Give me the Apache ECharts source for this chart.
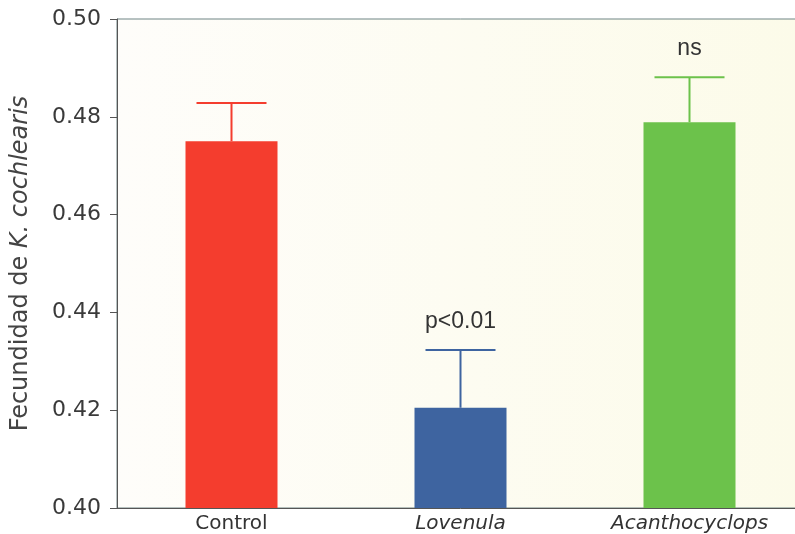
<!DOCTYPE html>
<html>
<head>
<meta charset="utf-8">
<script src="https://cdn.jsdelivr.net/npm/echarts@6/dist/echarts.min.js"></script>
<style>
  html, body { margin: 0; padding: 0; background: #fff; overflow: hidden; }
  #chart { width: 804px; height: 534px; }
</style>
</head>
<body>
<div id="chart"></div>
<script>
var categories = ['Control', 'Lovenula', 'Acanthocyclops']
var means = [0.475, 0.4205, 0.4789]
var errTops = [0.4828, 0.4323, 0.4881]
var colors = ['#f43d2e', '#3e64a0', '#6cc24b']
var notes = ['', 'p<0.01', 'ns']

var chart = echarts.init(document.getElementById('chart'))

var option = {
  backgroundColor: '#ffffff',
  grid: {
    left: 117,
    top: 19,
    right: 0,
    height: 489,
    show: true,
    borderWidth: 1,
    borderColor: '#6f8585',
    backgroundColor: {
      type: 'linear', x: 0, y: 0, x2: 1, y2: 0,
      colorStops: [
        { offset: 0, color: '#fefdfa' },
        { offset: 1, color: '#fcfbe9' }
      ]
    }
  },
  xAxis: {
    type: 'category',
    data: categories,
    axisLine: { lineStyle: { color: '#555', width: 1 } },
    axisTick: { show: false },
    axisLabel: {
      interval: 0,
      hideOverlap: false,
      margin: 6,
      fontFamily: 'DejaVu Sans',
      fontSize: 20,
      color: '#333',
      formatter: function (v) {
        return v === 'Control' ? v : '{i|' + v + '}'
      },
      rich: {
        i: { fontFamily: 'DejaVu Sans', fontStyle: 'italic', fontSize: 20, color: '#333' }
      }
    }
  },
  yAxis: {
    type: 'value',
    min: 0.40,
    max: 0.50,
    interval: 0.02,
    splitLine: { show: false },
    axisLine: { show: true, lineStyle: { color: '#555' } },
    axisTick: { show: true, length: 7, lineStyle: { color: '#555' } },
    axisLabel: {
      margin: 16,
      fontFamily: 'DejaVu Sans',
      fontSize: 22,
      color: '#3a3a3a',
      formatter: function (v) { return v.toFixed(2) }
    },
    name: '{n|Fecundidad de }{i|K. cochlearis}',
    nameLocation: 'middle',
    nameGap: 84,
    nameTextStyle: {
      rich: {
        n: { fontFamily: 'DejaVu Sans', fontSize: 24, color: '#444' },
        i: { fontFamily: 'DejaVu Sans', fontSize: 24, fontStyle: 'italic', color: '#444' }
      }
    }
  },
  series: [
    {
      type: 'bar',
      barWidth: 92,
      data: means.map(function (v, i) {
        return { value: v, itemStyle: { color: colors[i] } }
      }),
      z: 2
    },
    {
      type: 'custom',
      z: 3,
      data: categories.map(function (c, i) { return [i, means[i], errTops[i]] }),
      renderItem: function (params, api) {
        var i = api.value(0)
        var base = api.coord([i, api.value(1)])
        var top = api.coord([i, api.value(2)])
        var half = 35
        var style = { stroke: colors[i], lineWidth: 2 }
        var children = [
          { type: 'line', shape: { x1: base[0], y1: base[1], x2: top[0], y2: top[1] }, style: style },
          { type: 'line', shape: { x1: top[0] - half, y1: top[1], x2: top[0] + half, y2: top[1] }, style: style }
        ]
        if (notes[i]) {
          children.push({
            type: 'text',
            style: {
              text: notes[i],
              x: top[0],
              y: top[1] - 17,
              align: 'center',
              verticalAlign: 'bottom',
              fontFamily: 'Liberation Sans',
              fontSize: 23,
              fill: '#333'
            }
          })
        }
        return { type: 'group', children: children }
      }
    }
  ]
}

chart.setOption(option)
</script>
</body>
</html>
